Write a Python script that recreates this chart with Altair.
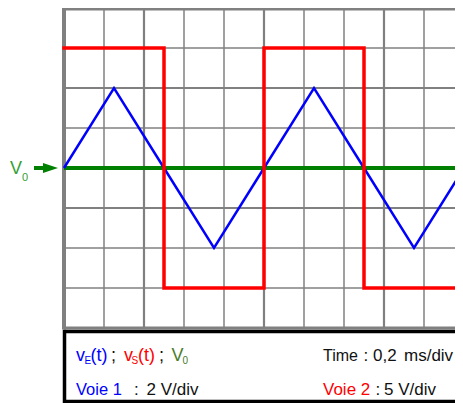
import altair as alt
import pandas as pd

# ---- oscilloscope settings ----
time_per_div = 0.2      # ms/div
voie1_per_div = 2       # V/div (blue)
voie2_per_div = 5       # V/div (red)
n_xdiv = 10
n_ydiv = 8

# ---- traces (time in ms, value in volts) ----
ve_t = [0, 0.25, 0.5, 0.75, 1.0, 1.25, 1.5, 1.75, 2.0]
ve_v = [0, 4, 0, -4, 0, 4, 0, -4, 0]
vs_t = [0, 0.5, 0.5, 1.0, 1.0, 1.5, 1.5, 2.0]
vs_v = [15, 15, -15, -15, 15, 15, -15, -15]
v0_t = [0, 2.0]
v0_v = [0, 0]

# grid lines (in divisions)
grid_x_major = [2, 5, 8]
grid_y_major = [2, -1]

ve = pd.DataFrame({"t": ve_t, "d": [v / voie1_per_div for v in ve_v], "o": list(range(len(ve_t)))})
vs = pd.DataFrame({"t": vs_t, "d": [v / voie2_per_div for v in vs_v], "o": list(range(len(vs_t)))})
v0 = pd.DataFrame({"t": v0_t, "d": v0_v, "o": [0, 1]})

half_y = n_ydiv / 2
grid_rows = []
for k in range(1, n_xdiv):
    grid_rows.append({"t": k * time_per_div, "t2": k * time_per_div, "d": -half_y, "d2": half_y,
                      "w": 2.2 if k in grid_x_major else 1.5})
for k in range(-int(half_y) + 1, int(half_y)):
    grid_rows.append({"t": 0, "t2": n_xdiv * time_per_div + 0.1, "d": k, "d2": k,
                      "w": 2.2 if k in grid_y_major else 1.5})
grid = pd.DataFrame(grid_rows)

border = pd.DataFrame([
    {"t": -0.01, "t2": 2.1, "d": 3.98, "d2": 3.98, "w": 3.5},
    {"t": 0, "t2": 2.1, "d": -4.0, "d2": -4.0, "w": 3},
    {"t": 0, "t2": 0, "d": -4.04, "d2": 4.05, "w": 4},
])

panel = pd.DataFrame([{"t": 0.0025, "t2": 2.2, "d": -4.0875, "d2": -5.8375}])

BLUE, RED, BLACK, OLIVE, LGREEN = "#0000ff", "#ff0000", "#111111", "#4a7c29", "#33a033"
L1, L1S, L2 = -4.825, -4.9, -5.6625
texts = pd.DataFrame([
    {"txt": "v", "t": 0.06, "d": L1, "col": BLUE, "fs": 18},
    {"txt": "E", "t": 0.1025, "d": L1S, "col": BLUE, "fs": 10},
    {"txt": "(t)", "t": 0.1325, "d": L1, "col": BLUE, "fs": 18},
    {"txt": ";", "t": 0.235, "d": L1, "col": BLACK, "fs": 18},
    {"txt": "v", "t": 0.30, "d": L1, "col": RED, "fs": 18},
    {"txt": "S", "t": 0.3375, "d": L1S, "col": RED, "fs": 10},
    {"txt": "(t)", "t": 0.37, "d": L1, "col": RED, "fs": 18},
    {"txt": ";", "t": 0.475, "d": L1, "col": BLACK, "fs": 18},
    {"txt": "V", "t": 0.5375, "d": L1, "col": OLIVE, "fs": 18},
    {"txt": "0", "t": 0.5925, "d": L1S, "col": OLIVE, "fs": 10},
    {"txt": "Voie 1", "t": 0.06, "d": L2, "col": BLUE, "fs": 16.5},
    {"txt": ":", "t": 0.35, "d": L2, "col": BLACK, "fs": 17},
    {"txt": "2 V/div", "t": 0.4125, "d": L2, "col": BLACK, "fs": 17},
    {"txt": "Time", "t": 1.295, "d": L1, "col": BLACK, "fs": 16},
    {"txt": ":", "t": 1.4975, "d": L1, "col": BLACK, "fs": 17},
    {"txt": "0,2", "t": 1.545, "d": L1, "col": BLACK, "fs": 17},
    {"txt": "ms/div", "t": 1.7, "d": L1, "col": BLACK, "fs": 17},
    {"txt": "Voie 2", "t": 1.295, "d": L2, "col": RED, "fs": 17},
    {"txt": ":", "t": 1.5575, "d": L2, "col": BLACK, "fs": 17},
    {"txt": "5 V/div", "t": 1.60, "d": L2, "col": BLACK, "fs": 17},
    {"txt": "V", "t": -0.27, "d": -0.15, "col": LGREEN, "fs": 18},
    {"txt": "0", "t": -0.21, "d": -0.325, "col": LGREEN, "fs": 11},
])

arrow_shaft = pd.DataFrame([{"t": -0.15, "t2": -0.075, "d": 0, "d2": 0}])
arrow_head = pd.DataFrame([{"t": -0.0675, "d": 0}])

PLOT_W, PLOT_H = 391, 395
xs = alt.Scale(domain=[0, PLOT_W / 200], nice=False, zero=False)
ys = alt.Scale(domain=[4 - PLOT_H / 40, 4], nice=False, zero=False)
X = alt.X("t:Q", scale=xs, axis=None)
Y = alt.Y("d:Q", scale=ys, axis=None)

grid_layer = alt.Chart(grid).mark_rule(color="#808080").encode(
    x=X, x2="t2:Q", y=Y, y2="d2:Q", strokeWidth=alt.StrokeWidth("w:Q", scale=None))
border_layer = alt.Chart(border).mark_rule(color="#808080").encode(
    x=X, x2="t2:Q", y=Y, y2="d2:Q", strokeWidth=alt.StrokeWidth("w:Q", scale=None))
green = alt.Chart(v0).mark_line(color="#008000", strokeWidth=4).encode(x=X, y=Y, order="o:Q")
blue = alt.Chart(ve).mark_line(color="#0000ff", strokeWidth=2.5).encode(x=X, y=Y, order="o:Q")
red = alt.Chart(vs).mark_line(color="#ff0000", strokeWidth=3.5, strokeCap="square").encode(
    x=X, y=Y, order="o:Q")
panel_layer = alt.Chart(panel).mark_rect(fill="white", stroke="black", strokeWidth=3.5).encode(
    x=X, x2="t2:Q", y=Y, y2="d2:Q")
text_layer = alt.Chart(texts).mark_text(align="left", baseline="alphabetic",
                                        font="Liberation Sans").encode(
    x=X, y=Y, text="txt:N", color=alt.Color("col:N", scale=None),
    size=alt.Size("fs:Q", scale=None))
shaft = alt.Chart(arrow_shaft).mark_rule(color="#008000", strokeWidth=4).encode(
    x=X, x2="t2:Q", y=Y)
head = alt.Chart(arrow_head).mark_point(
    shape="M-1,-0.667L1,0L-1,0.667Z", filled=True, color="#008000", opacity=1, size=225
).encode(x=X, y=Y)

chart = alt.layer(grid_layer, border_layer, green, blue, red, panel_layer, text_layer,
                  shaft, head).properties(
    width=PLOT_W, height=PLOT_H, autosize="none",
    padding={"left": 56, "top": 0, "right": 0, "bottom": 0},
).configure_view(stroke=None)

chart.save("out.html", embed_options={"renderer": "svg", "actions": False})
